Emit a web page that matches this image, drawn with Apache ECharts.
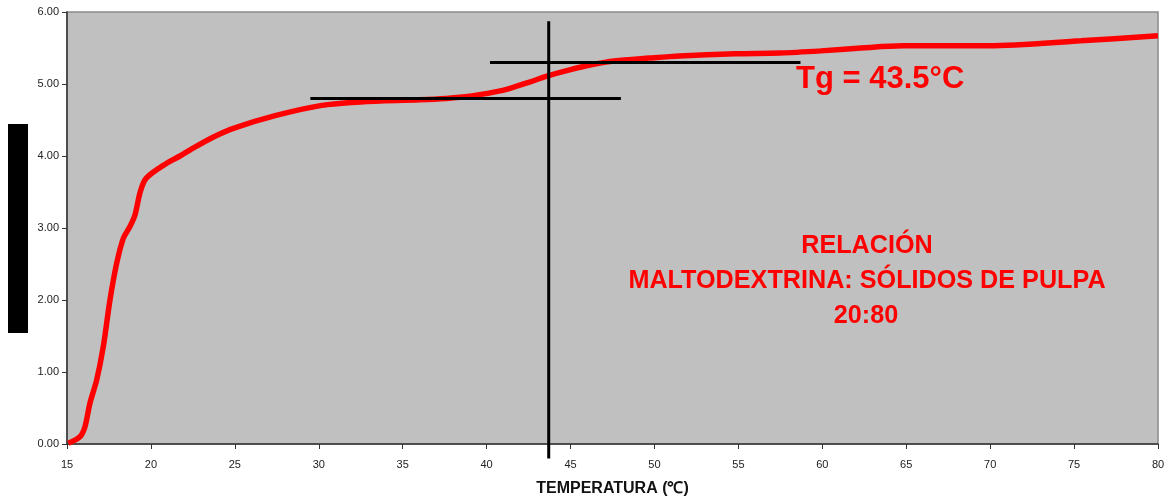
<!DOCTYPE html>
<html><head><meta charset="utf-8">
<script src="https://cdn.jsdelivr.net/npm/echarts@6/dist/echarts.min.js"></script>
<style>html,body{margin:0;padding:0;background:#fff}#c{width:1169px;height:502px}</style>
</head><body><div id="c"></div>
<script>
const temperature = [15.08,15.77,16.07,16.37,16.77,17.16,17.56,17.96,18.36,18.75,19.05,19.35,19.71,20.94,21.73,22.3,23.7,25,27.4,30.1,32.5,36,37.6,39,40.5,41.4,42.6,43.6,45,46.3,47.6,49.7,51.5,54.8,57.5,59.9,62.3,64.8,69.9,75.4,80];
const value = [0.01,0.10,0.24,0.57,0.89,1.35,2.00,2.51,2.86,3.02,3.18,3.49,3.69,3.90,4.00,4.08,4.26,4.39,4.56,4.70,4.75,4.78,4.80,4.83,4.89,4.94,5.03,5.11,5.20,5.27,5.32,5.36,5.39,5.42,5.43,5.46,5.50,5.53,5.53,5.60,5.67];
const lowerLine = [[29.5,4.80],[48.0,4.80]];
const upperLine = [[40.2,5.30],[58.7,5.30]];
const tgLine = [[43.7,5.87],[43.7,-0.2]];
const xTicks = [15,20,25,30,35,40,45,50,55,60,65,70,75,80];
const yTicks = [0,1,2,3,4,5,6];
const tgLabel = 'Tg = 43.5°C';
const ratioLabel = ['RELACIÓN','MALTODEXTRINA: SÓLIDOS DE PULPA','20:80'];

const chart = echarts.init(document.getElementById('c'));
const font = '"Liberation Sans", Arial, sans-serif';
chart.setOption({
  animation:false,
  grid:{left:67,right:11,top:12,bottom:58,outerBoundsMode:'none',containLabel:false,show:true,backgroundColor:'#C0C0C0',borderColor:'#8a8a8a',borderWidth:1.5},
  xAxis:{type:'value',min:15,max:80,interval:5,
    name:'TEMPERATURA (℃)',nameLocation:'middle',nameGap:37,
    nameTextStyle:{fontFamily:font,fontWeight:'bold',fontSize:16,color:'#111'},
    axisLine:{show:true,lineStyle:{color:'#333',width:1.5}},
    axisTick:{show:true,length:5,lineStyle:{color:'#333'}},
    axisLabel:{fontFamily:font,fontSize:11,color:'#222',margin:15},
    splitLine:{show:false}},
  yAxis:{type:'value',min:0,max:6,interval:1,
    axisLine:{show:true,lineStyle:{color:'#333',width:1.5}},
    axisTick:{show:true,length:5,lineStyle:{color:'#333'}},
    axisLabel:{fontFamily:font,fontSize:11,color:'#222',margin:8,formatter:v=>v.toFixed(2)},
    splitLine:{show:false}},
  series:[
    {type:'line',data:temperature.map((t,i)=>[t,value[i]]),showSymbol:false,smooth:0.3,
      lineStyle:{color:'#FF0000',width:5.5},z:3},
    {type:'line',data:lowerLine,showSymbol:false,lineStyle:{color:'#000',width:3},z:4},
    {type:'line',data:upperLine,showSymbol:false,lineStyle:{color:'#000',width:3},z:4},
    {type:'line',data:tgLine,showSymbol:false,clip:false,lineStyle:{color:'#000',width:3},z:4}
  ],
  graphic:[
    {type:'rect',shape:{x:8,y:124,width:20,height:209},style:{fill:'#000'}},
    {type:'text',x:796,y:79,style:{text:tgLabel,fontFamily:font,fontWeight:'bold',fontSize:31,fill:'#FF0000',align:'left',verticalAlign:'middle'}},
    {type:'text',x:867,y:246,style:{text:ratioLabel[0],fontFamily:font,fontWeight:'bold',fontSize:25.2,fill:'#FF0000',align:'center',verticalAlign:'middle'}},
    {type:'text',x:867,y:281,style:{text:ratioLabel[1],fontFamily:font,fontWeight:'bold',fontSize:25.2,fill:'#FF0000',align:'center',verticalAlign:'middle'}},
    {type:'text',x:866,y:316,style:{text:ratioLabel[2],fontFamily:font,fontWeight:'bold',fontSize:25.2,fill:'#FF0000',align:'center',verticalAlign:'middle'}}
  ]
});
</script></body></html>
